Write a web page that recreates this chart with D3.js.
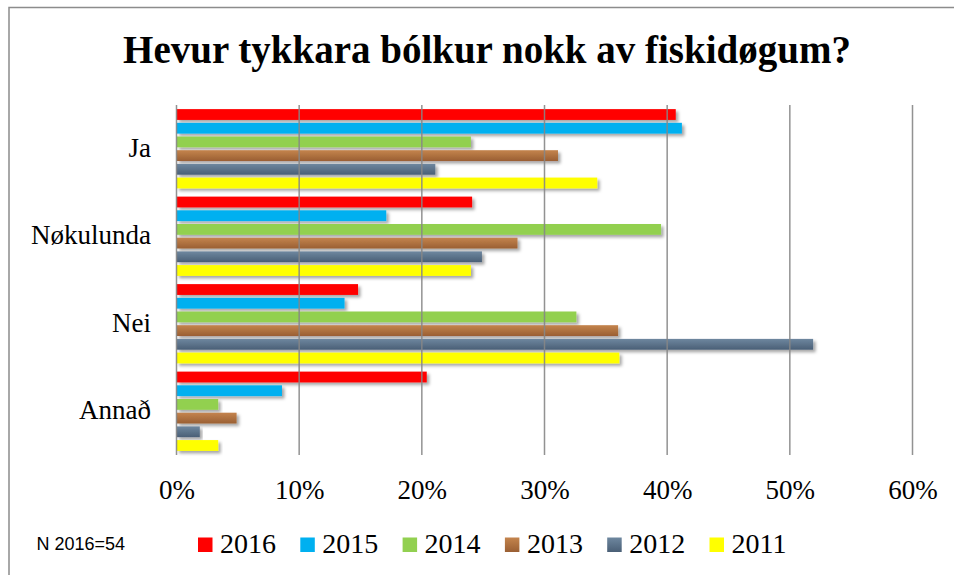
<!DOCTYPE html>
<html><head><meta charset="utf-8">
<script src="https://cdn.jsdelivr.net/npm/d3@7"></script>
<style>body{margin:0;background:#fff}svg{display:block}</style>
</head><body>
<svg id="c" width="954" height="575"></svg>
<script>
const categories = ["Ja", "Nøkulunda", "Nei", "Annað"];
const seriesNames = ["2016", "2015", "2014", "2013", "2012", "2011"];
const v2016 = [40.7, 24.1, 14.8, 20.4];
const v2015 = [41.2, 17.1, 13.7, 8.6];
const v2014 = [24.0, 39.5, 32.6, 3.4];
const v2013 = [31.1, 27.8, 36.0, 4.9];
const v2012 = [21.1, 24.9, 51.9, 1.9];
const v2011 = [34.3, 24.0, 36.1, 3.4];
const seriesValues = [v2016, v2015, v2014, v2013, v2012, v2011];
const xTicks = [0, 10, 20, 30, 40, 50, 60];
const title = "Hevur tykkara bólkur nokk av fiskidøgum?";
const note = "N 2016=54";

const serif = "'Liberation Serif','DejaVu Serif',serif";
const svg = d3.select("#c");
const defs = svg.append("defs");
const sh = defs.append("filter").attr("id","sh").attr("x","-5%").attr("y","-30%").attr("width","115%").attr("height","190%");
sh.append("feDropShadow").attr("dx",2.5).attr("dy",2.5).attr("stdDeviation",1.6).attr("flood-color","#000").attr("flood-opacity",0.35);

function grad(id, c1, c2){
  const g = defs.append("linearGradient").attr("id",id).attr("x1",0).attr("y1",0).attr("x2",0).attr("y2",1);
  g.append("stop").attr("offset","0%").attr("stop-color",c1);
  g.append("stop").attr("offset","100%").attr("stop-color",c2);
}
grad("gBrown","#c4844d","#9a5f33");
grad("gSlate","#6e879f","#4a5f76");
const fills = {"2016":"#ff0000","2015":"#00b0f0","2014":"#92d050","2013":"url(#gBrown)","2012":"url(#gSlate)","2011":"#ffff00"};

// frame
svg.append("path").attr("d","M9,580 V7.5 H960").attr("fill","none").attr("stroke","#8c8c8c").attr("stroke-width",1.5);

// title
svg.append("text").attr("x",487).attr("y",63).attr("text-anchor","middle")
  .attr("font-family",serif).attr("font-weight","bold")
  .attr("font-size",39).attr("fill","#000").text(title);

const x = d3.scaleLinear().domain([0,60]).range([176.5,912.5]);
const y0 = d3.scaleBand().domain(categories).range([105,455]).padding(0);
const y1 = d3.scaleBand().domain(seriesNames).range([0,y0.bandwidth()]).paddingInner(0.21).paddingOuter(0.3);

// bars
const gBars = svg.append("g");
categories.forEach((cat,ci)=>{
  seriesNames.forEach((s,si)=>{
    gBars.append("rect")
      .attr("x",x(0)).attr("y",y0(cat)+y1(s))
      .attr("width",x(seriesValues[si][ci])-x(0)).attr("height",y1.bandwidth())
      .attr("fill",fills[s]).attr("filter","url(#sh)");
  });
});

// gridlines
const gGrid = svg.append("g");
gGrid.selectAll("line").data(xTicks).join("line")
  .attr("x1",d=>x(d)).attr("x2",d=>x(d)).attr("y1",105).attr("y2",455)
  .attr("stroke","#868686").attr("stroke-width",1.5).attr("stroke-opacity",0.9);

// x axis labels
const xAxis = d3.axisBottom(x).tickValues(xTicks).tickFormat(d=>d+"%").tickSize(0).tickPadding(0);
const gx = svg.append("g").attr("transform","translate(0,478)").call(xAxis);
gx.select(".domain").remove();
gx.selectAll("text").attr("font-family",serif).attr("font-size",27).attr("fill","#000").attr("dy","0.78em");

// y axis labels
const yAxis = d3.axisLeft(y0).tickSize(0).tickPadding(0);
const gy = svg.append("g").attr("transform","translate(151,0)").call(yAxis);
gy.select(".domain").remove();
gy.selectAll("text").attr("font-family",serif).attr("font-size",27).attr("fill","#000").attr("dy","0.3em");

// note
svg.append("text").attr("x",36.5).attr("y",550).attr("font-family","'Liberation Sans',Arial,sans-serif")
  .attr("font-size",18).attr("fill","#000").text(note);

// legend
const lg = svg.append("g");
seriesNames.forEach((s,i)=>{
  const lx = 198 + i*102.3;
  lg.append("rect").attr("x",lx).attr("y",537.5).attr("width",14.5).attr("height",14.5).attr("fill",fills[s]);
  lg.append("text").attr("x",lx+22).attr("y",552.5).attr("font-family",serif)
    .attr("font-size",28).attr("fill","#000").text(s);
});
</script>
</body></html>
